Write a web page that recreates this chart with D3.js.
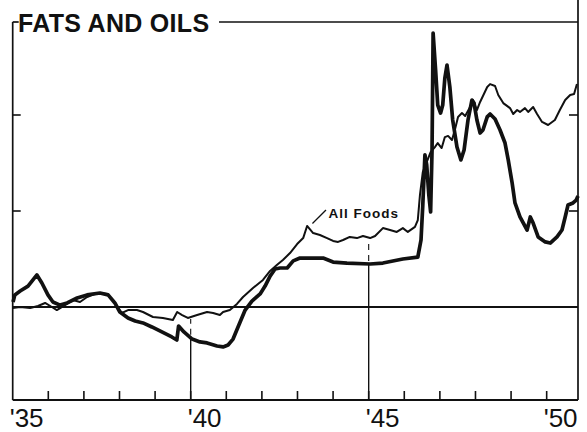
<!DOCTYPE html>
<html>
<head>
<meta charset="utf-8">
<script src="https://cdn.jsdelivr.net/npm/d3@7"></script>
<style>
  body { margin: 0; background: #fff; }
  svg { display: block; }
  text { font-family: "Liberation Sans", Arial, sans-serif; fill: #111; }
</style>
</head>
<body>
<svg id="chart" width="587" height="432"></svg>
<script>
// index numbers, 1935-39 = 100
let fatsYears = [1935.01, 1935.06, 1935.21, 1935.43, 1935.68, 1935.82, 1935.99, 1936.13, 1936.33, 1936.53,
  1936.81, 1937.09, 1937.45, 1937.68, 1937.87, 1938.01, 1938.24, 1938.44, 1938.66, 1938.91,
  1939.19, 1939.47, 1939.61, 1939.66, 1939.81, 1940.04, 1940.26, 1940.46, 1940.74, 1940.91,
  1941.05, 1941.19, 1941.33, 1941.53, 1941.72, 1941.95, 1942.09, 1942.23, 1942.37, 1942.51,
  1942.71, 1942.88, 1943.07, 1943.35, 1943.72, 1944.00, 1944.39, 1945.04, 1945.40, 1945.96,
  1946.38, 1946.47, 1946.52, 1946.58, 1946.63, 1946.69, 1946.74, 1946.78, 1946.81, 1946.88,
  1946.94, 1947.02, 1947.08, 1947.14, 1947.20, 1947.28, 1947.36, 1947.48, 1947.59, 1947.68,
  1947.79, 1947.90, 1947.96, 1948.04, 1948.13, 1948.21, 1948.33, 1948.41, 1948.55, 1948.69,
  1948.83, 1948.92, 1949.03, 1949.11, 1949.25, 1949.45, 1949.54, 1949.62, 1949.76, 1949.96,
  1950.10, 1950.29, 1950.43, 1950.52, 1950.60, 1950.74, 1950.83, 1950.88];
let fatsIndex = [102.6, 106.3, 108.3, 110.9, 116.7, 112.5, 106.3, 102.6, 101.0, 102.1,
  104.7, 106.3, 107.3, 106.3, 102.1, 97.4, 94.3, 92.7, 91.7, 89.6,
  87.0, 84.4, 82.8, 90.1, 87.0, 83.3, 81.8, 81.3, 79.7, 79.2,
  80.2, 83.3, 89.6, 98.4, 103.1, 106.8, 110.9, 116.1, 119.8, 120.3,
  120.3, 124.0, 125.5, 125.5, 125.5, 123.4, 122.9, 122.4, 122.9, 125.0,
  126.0, 134.9, 153.1, 179.2, 174.0, 158.3, 149.5, 181.8, 242.7, 223.4,
  205.2, 201.0, 205.2, 219.3, 226.0, 214.6, 197.4, 183.3, 176.6, 181.8,
  197.4, 207.8, 206.2, 197.4, 190.6, 192.2, 199.0, 200.5, 197.9, 192.2,
  185.4, 176.6, 164.6, 154.2, 146.9, 140.1, 146.9, 143.7, 136.5, 133.9,
  133.3, 136.5, 140.1, 146.9, 153.1, 154.2, 155.7, 157.8];

let foodYears = [1935.00, 1935.21, 1935.49, 1935.71, 1935.91, 1936.10, 1936.24, 1936.47, 1936.69, 1936.89,
  1937.09, 1937.37, 1937.65, 1937.82, 1937.93, 1938.07, 1938.24, 1938.49, 1938.66, 1938.94,
  1939.22, 1939.50, 1939.62, 1939.76, 1939.92, 1940.18, 1940.46, 1940.63, 1940.82, 1940.91,
  1941.10, 1941.30, 1941.47, 1941.75, 1942.03, 1942.23, 1942.42, 1942.59, 1942.79, 1942.99,
  1943.16, 1943.27, 1943.44, 1943.63, 1943.83, 1944.00, 1944.14, 1944.28, 1944.47, 1944.67,
  1944.84, 1945.04, 1945.18, 1945.40, 1945.60, 1945.79, 1945.96, 1946.10, 1946.30, 1946.38,
  1946.44, 1946.52, 1946.63, 1946.74, 1946.86, 1946.94, 1947.05, 1947.14, 1947.23, 1947.34,
  1947.42, 1947.51, 1947.62, 1947.71, 1947.85, 1947.93, 1948.04, 1948.13, 1948.21, 1948.33,
  1948.41, 1948.55, 1948.64, 1948.78, 1948.97, 1949.06, 1949.17, 1949.25, 1949.39, 1949.48,
  1949.62, 1949.73, 1949.87, 1950.04, 1950.23, 1950.37, 1950.52, 1950.66, 1950.77, 1950.85];
let foodIndex = [99.5, 100.0, 99.5, 100.5, 102.1, 100.0, 98.4, 101.0, 103.6, 102.6,
  105.2, 107.3, 106.8, 103.6, 100.0, 96.9, 98.4, 98.4, 97.4, 94.8,
  94.3, 93.2, 97.4, 95.8, 94.3, 95.8, 97.4, 96.9, 95.8, 97.4,
  98.4, 101.6, 105.2, 109.9, 114.1, 118.8, 121.9, 124.5, 128.1, 132.8,
  135.9, 142.2, 138.5, 137.5, 135.9, 134.4, 133.9, 134.9, 136.5, 135.9,
  137.0, 135.9, 137.0, 141.1, 140.1, 139.1, 141.1, 139.1, 141.7, 145.3,
  158.3, 170.3, 175.5, 180.7, 183.3, 185.4, 182.8, 188.5, 189.1, 187.0,
  192.2, 199.0, 201.0, 199.5, 204.2, 207.8, 202.6, 206.8, 209.9, 214.6,
  216.1, 215.1, 210.4, 206.2, 203.6, 200.5, 202.6, 201.6, 203.6, 201.6,
  204.2, 200.5, 196.4, 194.8, 197.4, 202.6, 207.8, 210.4, 210.9, 216.1];

let yearTicks = d3.range(1936, 1951);
let yearLabels = [1935, 1940, 1945, 1950];
let indexTicks = [150, 200];
let markYears = [1940, 1945];

let svg = d3.select("#chart");
let x = d3.scaleLinear().domain([1935, 1950.88]).range([12.7, 578]);
let y = d3.scaleLinear().domain([100, 200]).range([307, 115]);
let topY = 22, bottomY = 400;
let ink = "#111";

let zip = (ys, vs) => ys.map((t, i) => ({ t: t, v: vs[i] }));
let fats = zip(fatsYears, fatsIndex);
let food = zip(foodYears, foodIndex);

let valueAt = (series, t) => {
  let i = d3.bisector(d => d.t).left(series, t);
  if (i <= 0) return series[0].v;
  if (i >= series.length) return series[series.length - 1].v;
  let a = series[i - 1], b = series[i];
  return a.v + (b.v - a.v) * (t - a.t) / (b.t - a.t);
};

// frame
svg.append("line").attr("x1", x(1935)).attr("x2", x(1935)).attr("y1", topY).attr("y2", bottomY)
  .attr("stroke", ink).attr("stroke-width", 1.7);
svg.append("line").attr("x1", x(1935)).attr("x2", x(1935) + 6).attr("y1", topY).attr("y2", topY)
  .attr("stroke", ink).attr("stroke-width", 1.7);
svg.append("line").attr("x1", 219).attr("x2", x(1950.88)).attr("y1", topY).attr("y2", topY)
  .attr("stroke", ink).attr("stroke-width", 1.7);
svg.append("line").attr("x1", x(1950.88)).attr("x2", x(1950.88)).attr("y1", 0).attr("y2", bottomY)
  .attr("stroke", ink).attr("stroke-width", 1.7);

// bottom axis, yearly ticks pointing up
svg.append("line").attr("x1", x(1935)).attr("x2", x(1950.88)).attr("y1", bottomY).attr("y2", bottomY)
  .attr("stroke", ink).attr("stroke-width", 1.9);
svg.selectAll(".yearTick").data(yearTicks).enter().append("line")
  .attr("class", "yearTick")
  .attr("x1", d => x(d)).attr("x2", d => x(d))
  .attr("y1", bottomY).attr("y2", bottomY - 9)
  .attr("stroke", ink).attr("stroke-width", 1.6);

svg.selectAll(".yearLabel").data(yearLabels).enter().append("text")
  .attr("class", "yearLabel")
  .attr("x", d => x(d) - 3).attr("y", 427)
  .attr("font-size", 26)
  .text(d => "'" + String(d).slice(2));

// index ticks on both sides
svg.selectAll(".tickL").data(indexTicks).enter().append("line")
  .attr("class", "tickL")
  .attr("x1", x(1935)).attr("x2", x(1935) + 8)
  .attr("y1", d => y(d)).attr("y2", d => y(d))
  .attr("stroke", ink).attr("stroke-width", 1.6);
svg.selectAll(".tickR").data(indexTicks).enter().append("line")
  .attr("class", "tickR")
  .attr("x1", x(1950.88) - 9).attr("x2", x(1950.88))
  .attr("y1", d => y(d)).attr("y2", d => y(d))
  .attr("stroke", ink).attr("stroke-width", 1.6);

// 100 base line
svg.append("line").attr("x1", x(1935)).attr("x2", x(1950.88)).attr("y1", y(100)).attr("y2", y(100))
  .attr("stroke", ink).attr("stroke-width", 1.9);

// year markers: solid to the lower curve, dashed to the upper
markYears.forEach(t => {
  let a = y(valueAt(fats, t)), b = y(valueAt(food, t));
  let lo = Math.max(a, b), hi = Math.min(a, b);
  svg.append("line").attr("x1", x(t)).attr("x2", x(t)).attr("y1", bottomY).attr("y2", lo)
    .attr("stroke", ink).attr("stroke-width", 1.4);
  svg.append("line").attr("x1", x(t)).attr("x2", x(t)).attr("y1", lo - 3).attr("y2", hi + 2)
    .attr("stroke", ink).attr("stroke-width", 1.1).attr("stroke-dasharray", "6,5");
});

let line = d3.line().x(d => x(d.t)).y(d => y(d.v));

svg.append("path").datum(food).attr("d", line)
  .attr("fill", "none").attr("stroke", ink).attr("stroke-width", 2)
  .attr("stroke-linejoin", "round");
svg.append("path").datum(fats).attr("d", line)
  .attr("fill", "none").attr("stroke", ink).attr("stroke-width", 3.7)
  .attr("stroke-linejoin", "round");

// All Foods label
svg.append("line").attr("x1", x(1943.42)).attr("y1", y(143.5)).attr("x2", x(1943.8)).attr("y2", y(150.5))
  .attr("stroke", ink).attr("stroke-width", 1.3);
svg.append("text").attr("x", x(1943.87)).attr("y", y(146.3))
  .attr("font-size", 13.5).attr("font-weight", "bold").attr("letter-spacing", 1)
  .text("All  Foods");

// title
svg.append("text").attr("x", 18).attr("y", 32)
  .attr("font-size", 25).attr("font-weight", "bold").attr("letter-spacing", 0.3)
  .text("FATS AND OILS");
</script>
</body>
</html>
